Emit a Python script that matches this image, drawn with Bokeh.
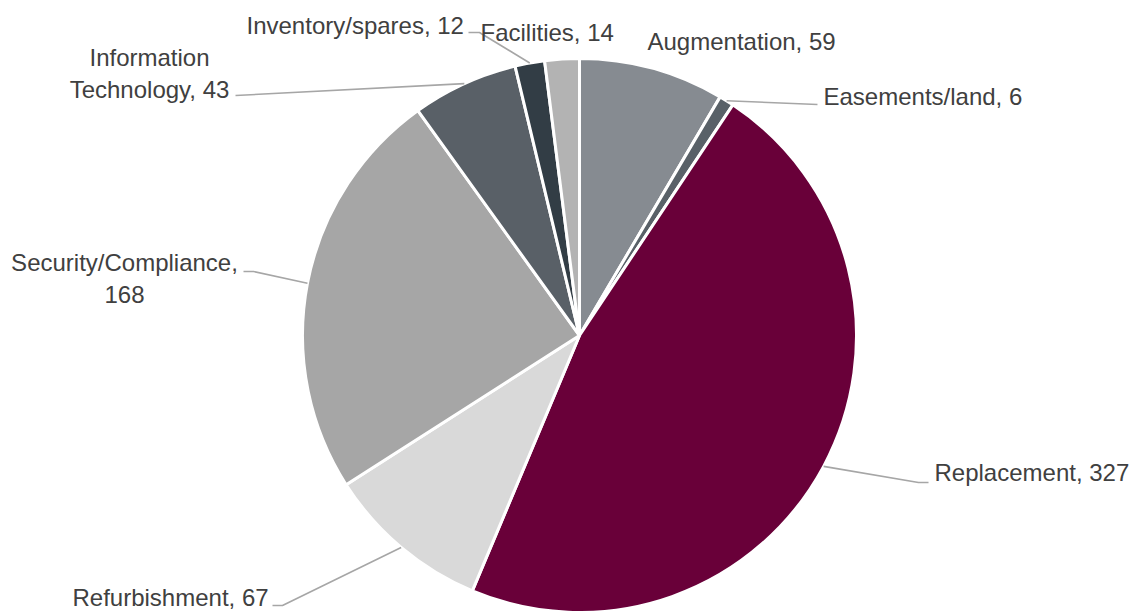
import math
from bokeh.plotting import figure
from bokeh.models import Range1d
from bokeh.core.properties import value
from bokeh.embed import file_html
from bokeh.resources import INLINE

# ---- data ----
categories = ["Augmentation", "Easements/land", "Replacement", "Refurbishment",
              "Security/Compliance", "Information Technology", "Inventory/spares", "Facilities"]
values = [59, 6, 327, 67, 168, 43, 12, 14]
colors = ["#868B91", "#596168", "#690039", "#D9D9D9",
          "#A6A6A6", "#596067", "#323D45", "#B3B3B3"]

# ---- layout (pixel coordinates, y downward) ----
W, H = 1130, 611
cx, cy, r = 579, 335, 277
# label anchors: (x, y, align)
label_pos = {
    "Augmentation": (647, 41, "left"),
    "Easements/land": (823, 96, "left"),
    "Replacement": (934, 472, "left"),
    "Refurbishment": (72, 597, "left"),
    "Security/Compliance": (124, 278, "center"),
    "Information Technology": (149, 73, "center"),
    "Inventory/spares": (246, 25, "left"),
    "Facilities": (480, 32, "left"),
}
# line-wrap rules for labels
wrap = {"Security/Compliance": "{c},\n{v}", "Information Technology": "Information\nTechnology, {v}"}
# leader line path points after the slice-edge start point
leader_path = {
    "Easements/land": [(817, 104)],
    "Replacement": [(918, 482), (928, 482)],
    "Refurbishment": [(282, 605), (272, 605)],
    "Security/Compliance": [(253, 271), (243, 271)],
    "Information Technology": [(235, 95)],
    "Inventory/spares": [(479, 32), (468, 32)],
}

total = sum(values)
fy = lambda py: H - py

p = figure(width=W, height=H, x_range=Range1d(0, W), y_range=Range1d(0, H),
           output_backend="svg", toolbar_location=None, min_border=0,
           x_axis_type=None, y_axis_type=None)
p.grid.visible = False
p.outline_line_color = None
p.background_fill_color = "white"
p.border_fill_color = "white"

starts, ends, mids = [], [], []
cum = 0
for v in values:
    a0 = cum / total
    cum += v
    a1 = cum / total
    starts.append(math.pi / 2 - a0 * 2 * math.pi)
    ends.append(math.pi / 2 - a1 * 2 * math.pi)
    mids.append((a0 + a1) / 2 * 2 * math.pi)

p.wedge(x=[cx] * len(values), y=[fy(cy)] * len(values), radius=r,
        start_angle=starts, end_angle=ends, direction="clock",
        fill_color=colors, line_color="white", line_width=3)

# leader lines
for cat, m in zip(categories, mids):
    if cat not in leader_path:
        continue
    sx = cx + r * math.sin(m)
    sy = cy - r * math.cos(m)
    pts = [(sx, sy)] + leader_path[cat]
    p.line([q[0] for q in pts], [fy(q[1]) for q in pts], line_color="#A6A6A6", line_width=1.6)

# labels
for cat, v in zip(categories, values):
    x, y, al = label_pos[cat]
    txt = wrap.get(cat, "{c}, {v}").format(c=cat, v=v)
    p.text(x=[x], y=[fy(y)], text=[txt], text_align=al, text_baseline="middle",
           text_font=value("Liberation Sans"), text_font_size="24px",
           text_color="#404040", text_line_height=1.2)

open("out.html", "w").write(file_html(p, INLINE))
